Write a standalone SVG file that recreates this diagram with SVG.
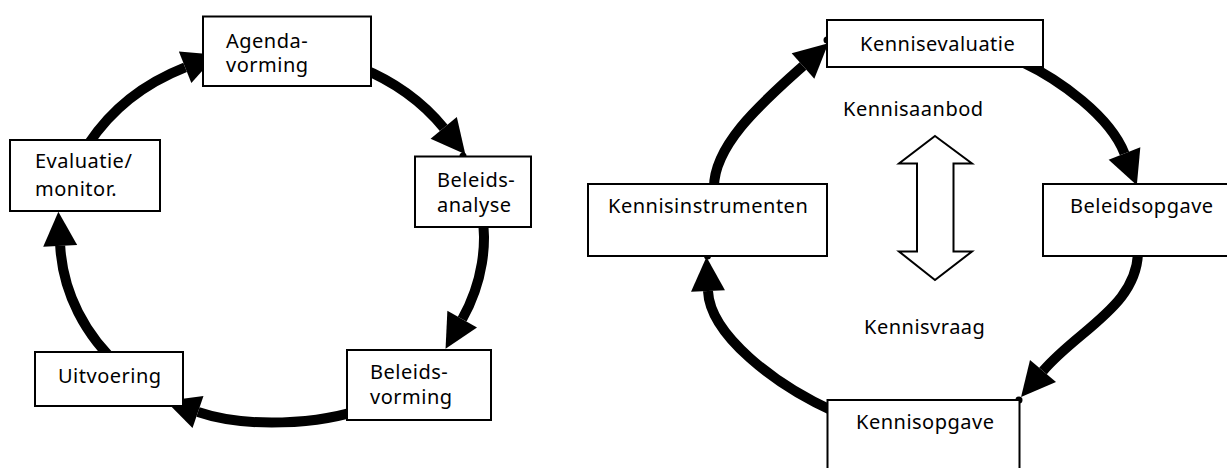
<svg xmlns="http://www.w3.org/2000/svg" width="1227" height="468" viewBox="0 0 1227 468">
  <style>
    .box { fill: #fff; stroke: #000; stroke-width: 2; }
    .lbl { font-family: "Noto Sans", "Open Sans", sans-serif; font-size: 20px; letter-spacing: 0.5px; fill: #000; }
    .arc { fill: none; stroke: #000; stroke-width: 10; marker-end: url(#ah); }
    .dot { fill: #000; }
    .hollow { fill: #fff; stroke: #000; stroke-width: 2; }
  </style>
  <defs>
    <marker id="ah" markerUnits="userSpaceOnUse" markerWidth="40" markerHeight="40" viewBox="0 -20 40 40" refX="0" refY="0" orient="auto" overflow="visible">
      <path d="M0,-17 L34,0 L0,17 Z" fill="#000"/>
    </marker>
  </defs>
  <rect width="1227" height="468" fill="#fff"/>

  <g id="connectors">
    <!-- left cycle -->
    <path class="arc" d="M 88.4 144 A 212 186 0 0 1 185.1 67.3"/>
    <path class="arc" d="M 359.9 67.7 A 212 186 0 0 1 443.7 127.9"/>
    <path class="arc" d="M 480.8 204.7 A 212 186 0 0 1 462.2 319.1"/>
    <path class="arc" d="M 365 408 C 320 425, 245 428, 198 412"/>
    <path class="arc" d="M 122.1 368.5 A 212 186 0 0 1 60.2 245.8"/>
    <circle class="dot" cx="463" cy="156" r="3.5"/>
    <circle class="dot" cx="165" cy="402" r="3.5"/>
    <!-- right cycle -->
    <path class="arc" d="M 714 190 C 712 145, 765 100, 803 66"/>
    <path class="arc" d="M 1022 62 C 1060 80, 1110 116.2, 1124.5 153.5"/>
    <path class="arc" d="M 1138 248 C 1140 305, 1078.5 329, 1043 371"/>
    <path class="arc" d="M 835 412 C 775 385, 710 335, 708 291"/>
    <circle class="dot" cx="827" cy="40" r="3.5"/>
    <circle class="dot" cx="1019" cy="400" r="3.5"/>
    <circle class="dot" cx="707.5" cy="256" r="3.5"/>
  </g>

  <g id="agendavorming">
    <rect class="box" x="203" y="16.5" width="168" height="69.5"/>
    <text class="lbl" x="226" y="47.5">Agenda-</text>
    <text class="lbl" x="226" y="72">vorming</text>
  </g>
  <g id="beleidsanalyse">
    <rect class="box" x="415" y="156.5" width="116" height="70.5"/>
    <text class="lbl" x="437" y="187">Beleids-</text>
    <text class="lbl" x="437" y="212">analyse</text>
  </g>
  <g id="beleidsvorming">
    <rect class="box" x="347" y="350" width="144" height="70"/>
    <text class="lbl" x="370" y="379">Beleids-</text>
    <text class="lbl" x="370" y="403.5">vorming</text>
  </g>
  <g id="uitvoering">
    <rect class="box" x="35" y="352" width="148" height="54"/>
    <text class="lbl" x="58" y="383">Uitvoering</text>
  </g>
  <g id="evaluatie">
    <rect class="box" x="10" y="140" width="150" height="71"/>
    <text class="lbl" x="35" y="168">Evaluatie/</text>
    <text class="lbl" x="35" y="196">monitor.</text>
  </g>

  <g id="kennisevaluatie">
    <rect class="box" x="827" y="20" width="216" height="47"/>
    <text class="lbl" x="860" y="51">Kennisevaluatie</text>
  </g>
  <g id="beleidsopgave">
    <rect class="box" x="1043" y="184" width="200" height="72"/>
    <text class="lbl" x="1070" y="213">Beleidsopgave</text>
  </g>
  <g id="kennisopgave">
    <rect class="box" x="827.5" y="400" width="192" height="80"/>
    <text class="lbl" x="856" y="429">Kennisopgave</text>
  </g>
  <g id="kennisinstrumenten">
    <rect class="box" x="588" y="184" width="239" height="72"/>
    <text class="lbl" x="608" y="213">Kennisinstrumenten</text>
  </g>

  <g id="kennisaanbod">
    <text class="lbl" x="843" y="116">Kennisaanbod</text>
  </g>
  <g id="kennisvraag">
    <text class="lbl" x="864" y="334">Kennisvraag</text>
  </g>
  <g id="dubbele-pijl">
    <polygon class="hollow" points="935,136 972,163.5 953.5,163.5 953.5,251.5 972,251.5 935,280 899,251.5 917,251.5 917,163.5 899,163.5"/>
  </g>
</svg>
